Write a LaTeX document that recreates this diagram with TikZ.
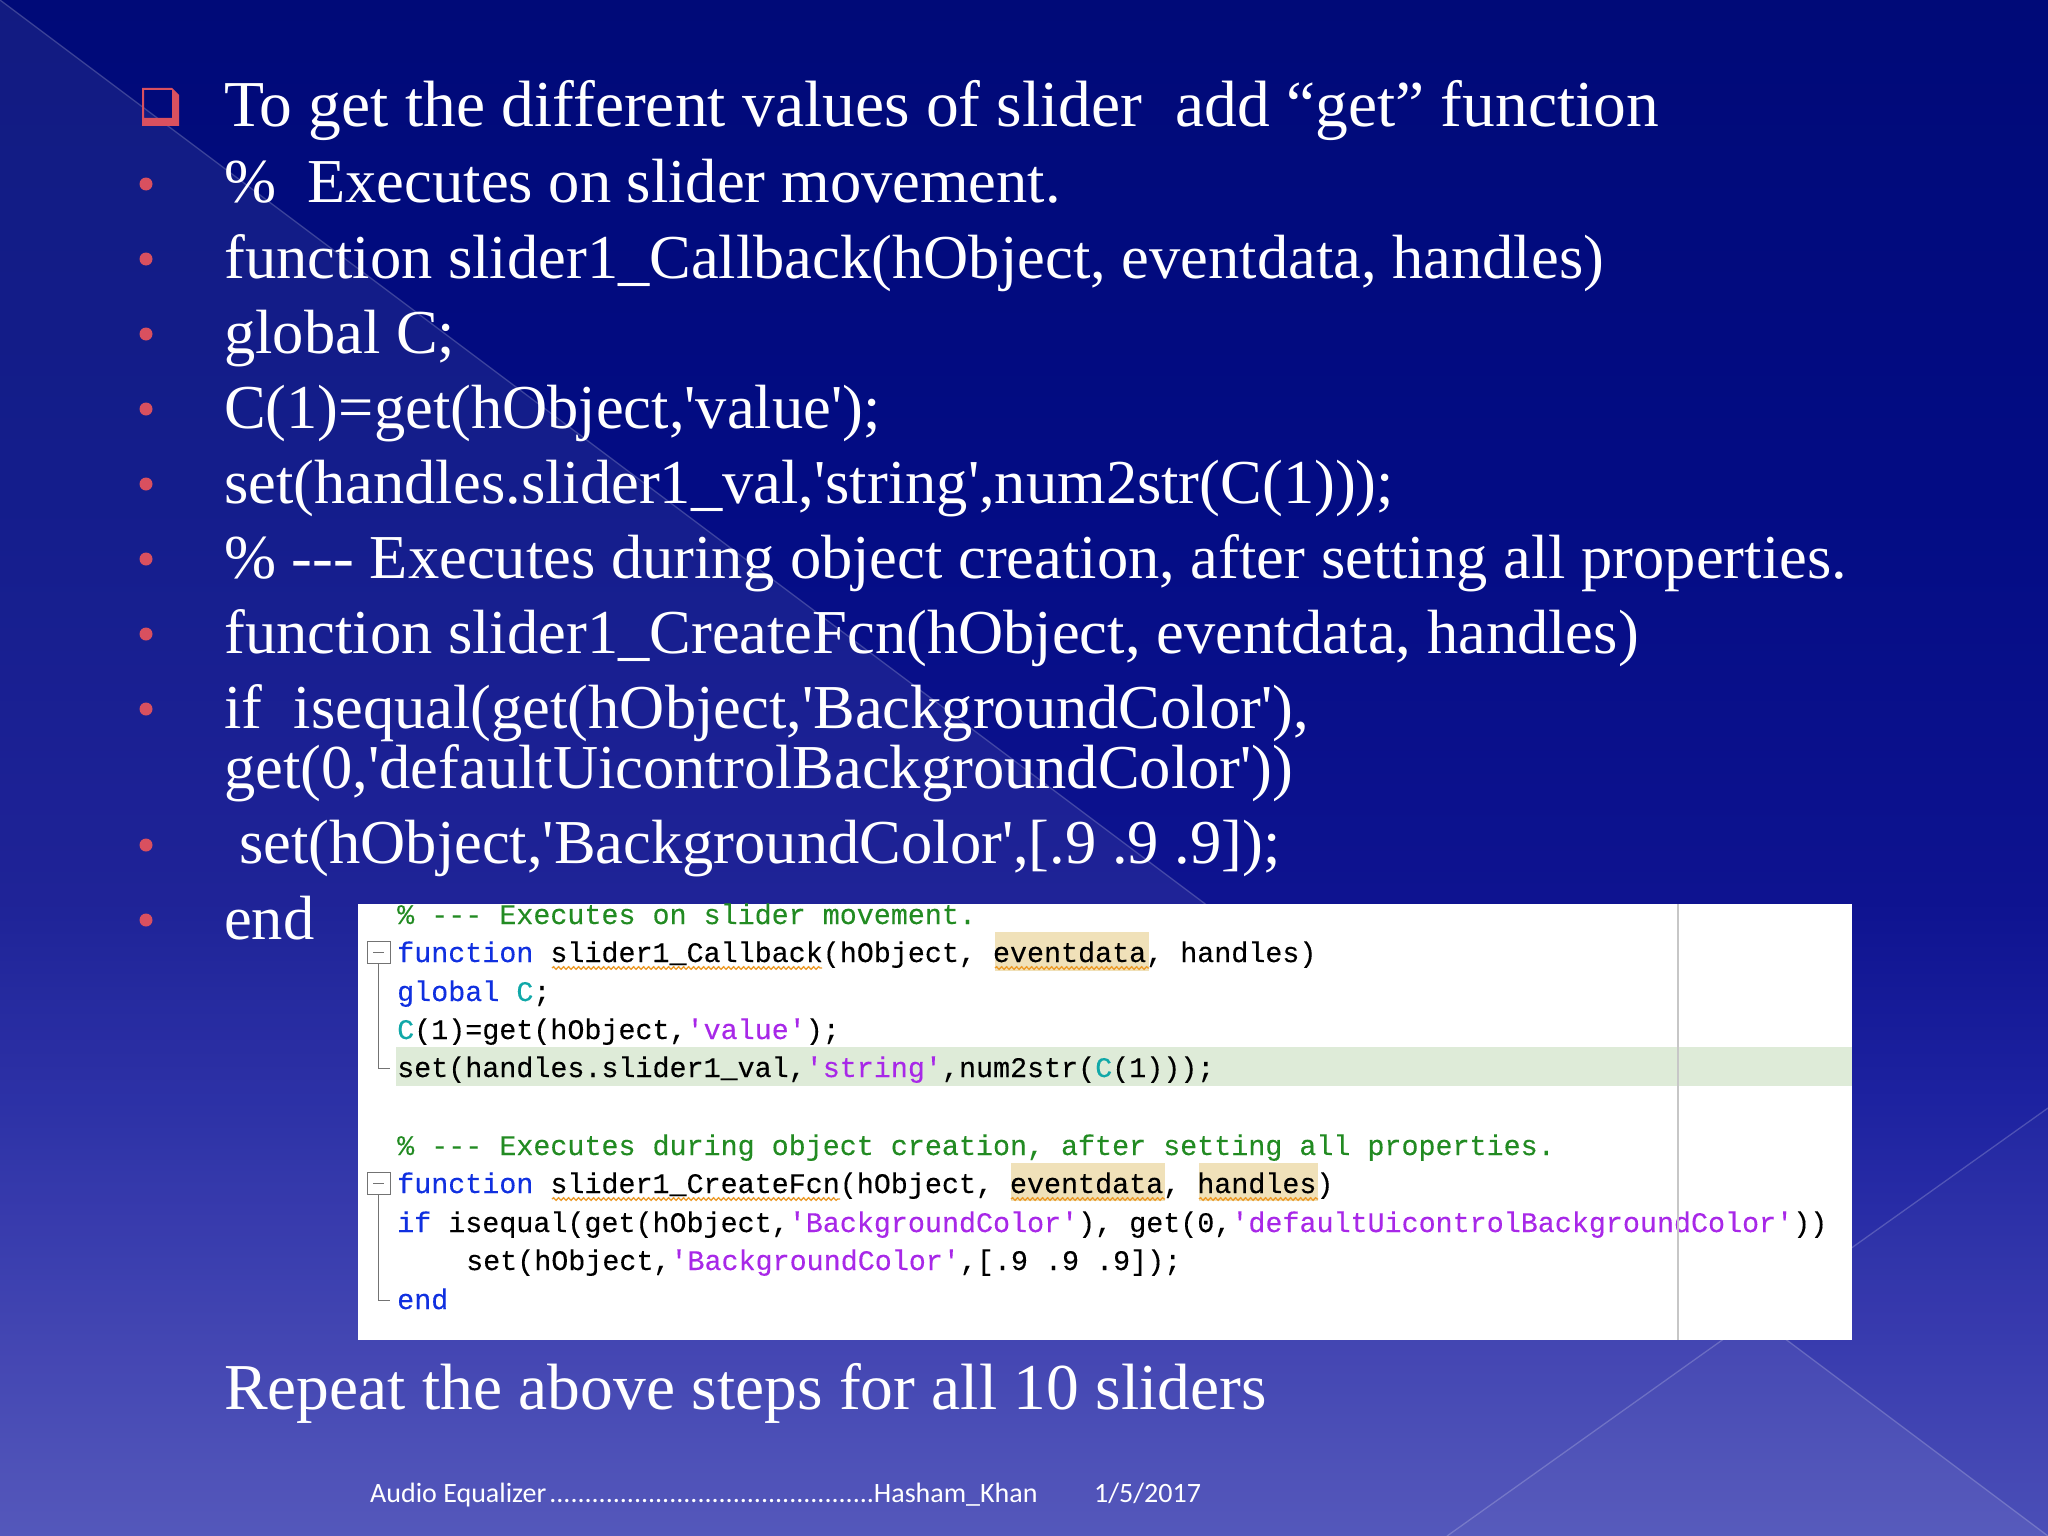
\documentclass[tikz,border=0pt]{standalone}
\usepackage{fontspec}
\usetikzlibrary{decorations.pathmorphing}
\newfontfamily\bodyfont{Liberation Serif}
\newfontfamily\codefont[FakeBold=0.2]{Liberation Mono}
\newfontfamily\footfont{Carlito}
\definecolor{bgA}{HTML}{000A78}
\definecolor{bgB}{HTML}{030C84}
\definecolor{bgC}{HTML}{0E1390}
\definecolor{bgD}{HTML}{1D22A0}
\definecolor{bgE}{HTML}{3538AD}
\definecolor{bgF}{HTML}{484CB6}
\definecolor{bulletred}{HTML}{D9505F}
\definecolor{kwblue}{HTML}{1030E0}
\definecolor{cmgreen}{HTML}{228B22}
\definecolor{stpurple}{HTML}{A828E8}
\definecolor{gvteal}{HTML}{10A8A8}
\definecolor{hlbg}{HTML}{F0E1B9}
\definecolor{rowgreen}{HTML}{DEEBD8}
\definecolor{squig}{HTML}{EC9A28}
\pgfdeclareverticalshading{slidebg}{100bp}{
  color(0bp)=(bgF); color(25bp)=(bgF);
  color(31.4bp)=(bgE); color(39.2bp)=(bgD); color(45.7bp)=(bgC);
  color(58.7bp)=(bgB); color(75bp)=(bgA); color(100bp)=(bgA)}
\newcommand{\kw}[1]{\textcolor{kwblue}{#1}}
\newcommand{\cm}[1]{\textcolor{cmgreen}{#1}}
\newcommand{\str}[1]{\textcolor{stpurple}{#1}}
\newcommand{\gv}[1]{\textcolor{gvteal}{#1}}
\tikzset{
  x=1pt,y=-1pt,
  bodyline/.style={anchor=base west,inner sep=0pt,text=white,font=\bodyfont\fontsize{62.5}{62.5}\selectfont},
  bigline/.style={anchor=base west,inner sep=0pt,text=white,font=\bodyfont\fontsize{65.5}{65.5}\selectfont},
  codeline/.style={anchor=base west,inner sep=0pt,text=black,font=\codefont\fontsize{28.37}{28.37}\selectfont},
  footline/.style={anchor=base west,inner sep=0pt,text=white,font=\footfont\fontsize{28}{28}\selectfont},
  dotbullet/.style={circle,fill=bulletred,inner sep=0pt,minimum size=13pt},
  bgline/.style={draw=white,draw opacity=.2,line width=1.3pt},
  foldline/.style={draw=black!55,line width=1pt},
  wavy/.style={draw=squig,line width=1.3pt,decorate,decoration={snake,amplitude=1.3pt,segment length=5pt}},
  hl/.style={fill=hlbg,draw=none}
}
\begin{document}
\begin{tikzpicture}
\useasboundingbox (0,0) rectangle (2048,1536);
\shade[shading=slidebg] (0,0) rectangle (2048,1536);
\fill[white,opacity=.07] (0,0) -- (2048,1536) -- (0,1536) -- cycle;
\fill[white,opacity=.02] (1447,1536) -- (2048,1108) -- (2048,1536) -- cycle;
\path[bgline] (0,0) -- (2048,1536);
\path[bgline] (1447,1536) -- (2048,1108);

% square bullet
\fill[bulletred,even odd rule] (142,88) -- (172,88) -- (179,95) -- (179,126) -- (142,126) -- cycle
  (144,90) rectangle (172,118);

% bullets
\foreach \n/\yy in {b2/184,b3/259,b4/334,b5/409,b6/484,b7/559,b8/634,b9/709,b10/845,b11/920}
  \node[dotbullet] (\n) at (146,\yy) {};

% body text
\node[bigline] (t1) at (224,127) {To get the different values of slider\ \ add “get” function};
\node[bodyline] (t2) at (224,202) {\%\ \ Executes on slider movement.};
\node[bodyline] (t3) at (224,278) {function slider1\_Callback(hObject, eventdata, handles)};
\node[bodyline] (t4) at (224,353) {global C;};
\node[bodyline] (t5) at (224,428) {C(1)=get(hObject,'value');};
\node[bodyline] (t6) at (224,503) {set(handles.slider1\_val,'string',num2str(C(1)));};
\node[bodyline] (t7) at (224,578) {\% --- Executes during object creation, after setting all properties.};
\node[bodyline] (t8) at (224,653) {function slider1\_CreateFcn(hObject, eventdata, handles)};
\node[bodyline] (t9) at (224,728) {if\ \ isequal(get(hObject,'BackgroundColor'),};
\node[bodyline] (t9b) at (224,788) {get(0,'defaultUicontrolBackgroundColor'))};
\node[bodyline] (t10) at (239,863) {set(hObject,'BackgroundColor',[.9 .9 .9]);};
\node[bodyline] (t11) at (224,939) {end};
\node[bigline] (t12) at (224,1409) {Repeat the above steps for all 10 sliders};

% screenshot
\fill[white] (358,904) rectangle (1852,1340);
\fill[rowgreen] (396,1047) rectangle (1852,1086);
\fill[hl] (995,932) rectangle (1149,971);
\fill[hl] (1011,1163) rectangle (1165,1201);
\fill[hl] (1199,1163) rectangle (1318,1201);

\node[codeline] (c1) at (397,924) {\cm{\% --- Executes on slider movement.}};
\node[codeline] (c2) at (397,962) {\kw{function} slider1\_Callback(hObject, eventdata, handles)};
\node[codeline] (c3) at (397,1001) {\kw{global} \gv{C};};
\node[codeline] (c4) at (397,1039) {\gv{C}(1)=get(hObject,\str{'value'});};
\node[codeline] (c5) at (397,1077) {set(handles.slider1\_val,\str{'string'},num2str(\gv{C}(1)));};
\node[codeline] (c6) at (397,1155) {\cm{\% --- Executes during object creation, after setting all properties.}};
\node[codeline] (c7) at (397,1193) {\kw{function} slider1\_CreateFcn(hObject, eventdata, handles)};
\node[codeline] (c8) at (397,1232) {\kw{if} isequal(get(hObject,\str{'BackgroundColor'}), get(0,\str{'defaultUicontrolBackgroundColor'}))};
\node[codeline] (c9) at (466,1270) {set(hObject,\str{'BackgroundColor'},[.9 .9 .9]);};
\node[codeline] (c10) at (397,1309) {\kw{end}};

% squiggles
\path[wavy] (552,968) -- (822,968);
\path[wavy] (995,968) -- (1149,968);
\path[wavy] (552,1199) -- (840,1199);
\path[wavy] (1011,1199) -- (1165,1199);
\path[wavy] (1199,1199) -- (1318,1199);

% margin line
\draw[black!22,line width=1.5pt] (1678,904) -- (1678,1340);

% fold marks
\path[foldline] (367,941) rectangle (390,963);
\path[foldline] (373,952) -- (384,952);
\path[foldline] (378,963) -- (378,1068) -- (390,1068);
\path[foldline] (367,1172) rectangle (390,1194);
\path[foldline] (373,1183) -- (384,1183);
\path[foldline] (378,1194) -- (378,1300) -- (390,1300);

% footer
\node[footline] (f1) at (370,1502) {Audio Equalizer\hspace*{3pt}..............................................Hasham\_Khan};
\node[footline] (f2) at (1094,1502) {1/5/2017};
\end{tikzpicture}
\end{document}
